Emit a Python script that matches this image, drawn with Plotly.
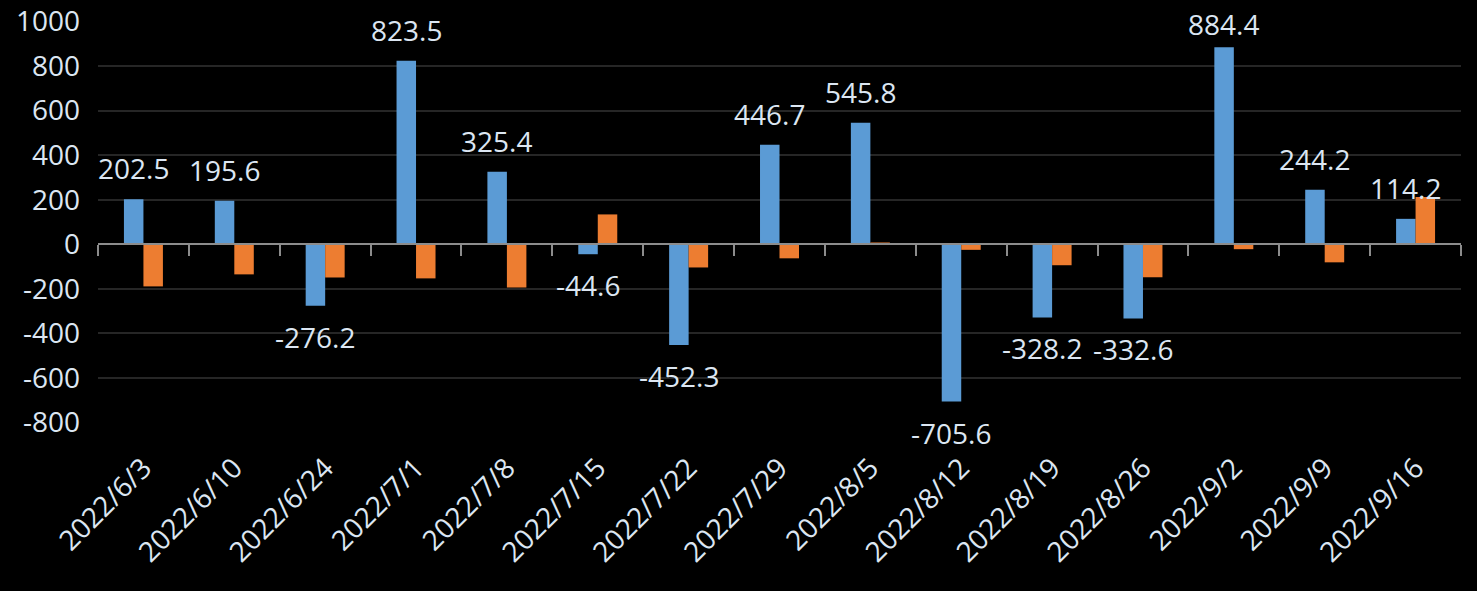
import plotly.graph_objects as go

dates = ["2022/6/3", "2022/6/10", "2022/6/24", "2022/7/1", "2022/7/8", "2022/7/15",
         "2022/7/22", "2022/7/29", "2022/8/5", "2022/8/12", "2022/8/19", "2022/8/26",
         "2022/9/2", "2022/9/9", "2022/9/16"]
series_blue = [202.5, 195.6, -276.2, 823.5, 325.4, -44.6, -452.3, 446.7, 545.8,
               -705.6, -328.2, -332.6, 884.4, 244.2, 114.2]
series_orange = [-189, -135, -149, -153, -194, 134, -104, -63, 8, -25, -94, -148,
                 -22, -81, 212]
y_ticks = [-800, -600, -400, -200, 0, 200, 400, 600, 800, 1000]

Y_MIN, Y_MAX = -802, 1002
TEXT = "#dce6f2"
FONT = "Open Sans, Noto Sans, DejaVu Sans, sans-serif"
BLUE = "#5b9bd5"
ORANGE = "#ed7d31"
AXIS_GRAY = "#8c8c8c"

W, H = 1477, 591
M_T, M_B, M_L, M_R = 21, 168, 98, 16
LABEL_OFFSET = 31
LABEL_MIN_CENTER = 24  # keep labels inside the chart area (like Excel)
px_per_unit = (H - M_T - M_B) / (Y_MAX - Y_MIN)

fig = go.Figure()
fig.add_trace(go.Bar(x=dates, y=series_blue, marker=dict(color=BLUE, line=dict(width=0)),
                     name="A", hoverinfo="x+y"))
fig.add_trace(go.Bar(x=dates, y=series_orange, marker=dict(color=ORANGE, line=dict(width=0)),
                     name="B", hoverinfo="x+y"))
# invisible helper trace for the axis drawn at y = 0
fig.add_trace(go.Scatter(x=dates, y=[None] * len(dates), xaxis="x2", mode="none",
                         showlegend=False, hoverinfo="skip"))

annotations = []
for d, v in zip(dates, series_blue):
    if v >= 0:
        bar_end_px = M_T + (Y_MAX - v) * px_per_unit
        shift = min(LABEL_OFFSET, bar_end_px - LABEL_MIN_CENTER)
    else:
        shift = -LABEL_OFFSET
    annotations.append(dict(
        x=d, y=v, xref="x", yref="y", text=f"{v:.1f}", showarrow=False,
        xshift=-10, yshift=shift, yanchor="middle", xanchor="center",
        font=dict(family=FONT, size=28, color=TEXT)))

zero_pos = (0 - Y_MIN) / (Y_MAX - Y_MIN)

fig.update_layout(
    width=W, height=H,
    paper_bgcolor="#000000", plot_bgcolor="#000000",
    margin=dict(l=M_L, r=M_R, t=M_T, b=M_B, autoexpand=False),
    barmode="group", bargap=0.571, bargroupgap=0,
    showlegend=False,
    font=dict(family=FONT, color=TEXT, size=28),
    annotations=annotations,
    xaxis=dict(type="category", categoryorder="array", categoryarray=dates,
               range=[-0.5, len(dates) - 0.5], showgrid=False, zeroline=False,
               showline=False, ticks="", tickangle=-45, ticklabelstandoff=22,
               automargin=False,
               tickfont=dict(family=FONT, size=28, color=TEXT)),
    xaxis2=dict(type="category", categoryorder="array", categoryarray=dates,
                overlaying="x", anchor="free", position=zero_pos, side="bottom",
                range=[-0.5, len(dates) - 0.5], showgrid=False, zeroline=False,
                showline=True, linecolor=AXIS_GRAY, linewidth=2, automargin=False,
                ticks="outside", tickson="boundaries", ticklen=11, tickwidth=2,
                tickcolor=AXIS_GRAY, showticklabels=False),
    yaxis=dict(range=[Y_MIN, Y_MAX], tickvals=y_ticks,
               ticktext=[str(t) for t in y_ticks], showgrid=True,
               gridcolor="#262626", gridwidth=2, zeroline=False, showline=False,
               ticks="", ticklabelstandoff=17, automargin=False,
               tickfont=dict(family=FONT, size=28, color=TEXT)),
)

fig.write_html(
    "out.html",
    config={"displayModeBar": False},
    post_script="document.body.style.margin='0';document.body.style.background='#000';",
)
